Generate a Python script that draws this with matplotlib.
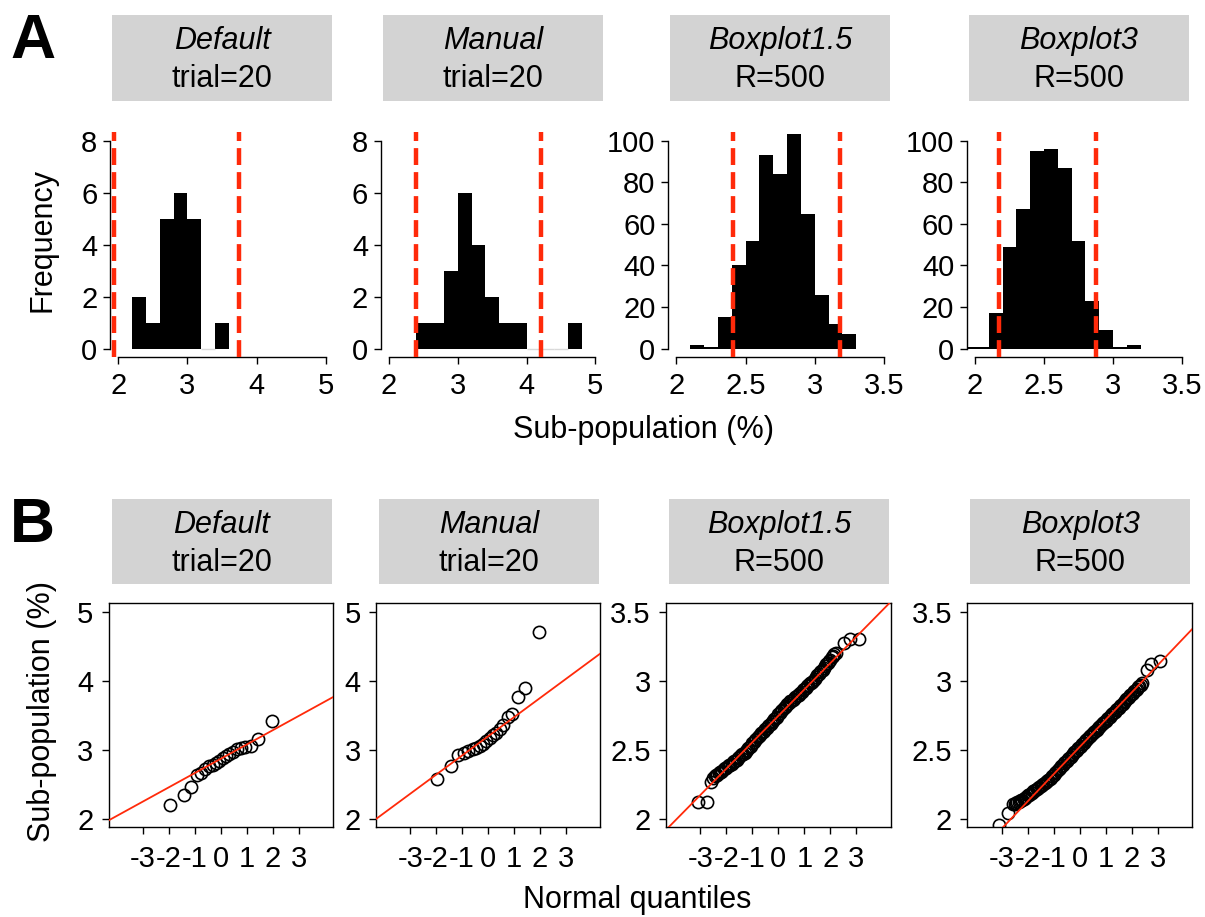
import numpy as np
import matplotlib
matplotlib.use('Agg')
import matplotlib.pyplot as plt
from matplotlib.patches import Rectangle
from statistics import NormalDist

plt.rcParams['font.family'] = ['Liberation Sans', 'DejaVu Sans']

W, H = 1205, 917

# ------------------------------------------------------------------ data
methods = ['Default', 'Manual', 'Boxplot1.5', 'Boxplot3']
sizes = ['trial=20', 'trial=20', 'R=500', 'R=500']

# histogram bins (edges) and counts, panel A
hist_edges_1 = [2.2, 2.4, 2.6, 2.8, 3.0, 3.2, 3.4, 3.6]
hist_counts_1 = [2, 1, 5, 6, 5, 0, 1]
hist_edges_2 = [2.4, 2.6, 2.8, 3.0, 3.2, 3.4, 3.6, 3.8, 4.0, 4.2, 4.4, 4.6, 4.8]
hist_counts_2 = [1, 1, 3, 6, 4, 2, 1, 1, 0, 0, 0, 1]
hist_edges_3 = [2.1, 2.2, 2.3, 2.4, 2.5, 2.6, 2.7, 2.8, 2.9, 3.0, 3.1, 3.2, 3.3]
hist_counts_3 = [2, 1, 15, 40, 52, 93, 84, 103, 65, 26, 12, 7]
hist_edges_4 = [1.9, 2.0, 2.1, 2.2, 2.3, 2.4, 2.5, 2.6, 2.7, 2.8, 2.9, 3.0, 3.1, 3.2]
hist_counts_4 = [1, 1, 17, 49, 67, 95, 96, 87, 52, 23, 9, 1, 2]

# outlier cut-offs (red dashed lines)
cutoffs_1 = [1.94, 3.75]
cutoffs_2 = [2.39, 4.21]
cutoffs_3 = [2.41, 3.18]
cutoffs_4 = [2.175, 2.875]

# QQ data, panel B (sorted sample values, n = 20)
qq_values_1 = [2.20, 2.35, 2.46, 2.63, 2.66, 2.72, 2.76, 2.78, 2.81, 2.84,
               2.88, 2.91, 2.94, 2.97, 3.01, 3.03, 3.04, 3.05, 3.15, 3.42]
qq_values_2 = [2.58, 2.77, 2.93, 2.95, 2.98, 3.01, 3.03, 3.05, 3.08, 3.13,
               3.17, 3.21, 3.24, 3.30, 3.36, 3.47, 3.52, 3.77, 3.89, 4.70]

# R=500 panels: points read along the dense QQ band (normal quantile, value)
qq_q_3 = [-3.09, -2.75, -2.58,
          -2.50, -2.45, -2.40, -2.35, -2.30, -2.25, -2.20, -2.15, -2.10, -2.05,
          -2.00, -1.95, -1.90, -1.85, -1.80, -1.75, -1.70, -1.65, -1.60, -1.55,
          -1.50, -1.45, -1.40, -1.35, -1.30, -1.25, -1.20, -1.15, -1.10, -1.05,
          -1.00, -0.95, -0.90, -0.85, -0.80, -0.75, -0.70, -0.65, -0.60, -0.55,
          -0.50, -0.45, -0.40, -0.35, -0.30, -0.25, -0.20, -0.15, -0.10, -0.05,
          0.00, 0.05, 0.10, 0.15, 0.20, 0.25, 0.30, 0.35, 0.40, 0.45,
          0.50, 0.55, 0.60, 0.65, 0.70, 0.75, 0.80, 0.85, 0.90, 0.95,
          1.00, 1.05, 1.10, 1.15, 1.20, 1.25, 1.30, 1.35, 1.40, 1.45,
          1.50, 1.55, 1.60, 1.65, 1.70, 1.75, 1.80, 1.85, 1.90, 1.95,
          2.00, 2.05, 2.10, 2.15, 2.20,
          2.52, 2.75, 3.09]
qq_v_3 = [2.12, 2.12, 2.27,
          2.30, 2.31, 2.32, 2.32, 2.33, 2.34, 2.34, 2.35, 2.36, 2.37,
          2.37, 2.38, 2.39, 2.39, 2.40, 2.41, 2.42, 2.42, 2.43, 2.44,
          2.45, 2.46, 2.47, 2.47, 2.48, 2.49, 2.50, 2.51, 2.52, 2.53,
          2.55, 2.56, 2.57, 2.58, 2.59, 2.60, 2.61, 2.62, 2.63, 2.64,
          2.65, 2.66, 2.67, 2.68, 2.69, 2.70, 2.71, 2.72, 2.73, 2.74,
          2.76, 2.77, 2.78, 2.79, 2.80, 2.81, 2.82, 2.83, 2.84, 2.85,
          2.85, 2.86, 2.87, 2.88, 2.89, 2.90, 2.90, 2.91, 2.92, 2.93,
          2.94, 2.95, 2.96, 2.97, 2.98, 2.98, 2.99, 3.00, 3.01, 3.03,
          3.04, 3.05, 3.06, 3.07, 3.08, 3.09, 3.11, 3.12, 3.13, 3.14,
          3.15, 3.17, 3.18, 3.19, 3.20,
          3.27, 3.30, 3.30]
qq_q_4 = [-3.09, -2.75, -2.58,
          -2.50, -2.45, -2.40, -2.35, -2.30, -2.25, -2.20, -2.15, -2.10, -2.05,
          -2.00, -1.95, -1.90, -1.85, -1.80, -1.75, -1.70, -1.65, -1.60, -1.55,
          -1.50, -1.45, -1.40, -1.35, -1.30, -1.25, -1.20, -1.15, -1.10, -1.05,
          -1.00, -0.95, -0.90, -0.85, -0.80, -0.75, -0.70, -0.65, -0.60, -0.55,
          -0.50, -0.45, -0.40, -0.35, -0.30, -0.25, -0.20, -0.15, -0.10, -0.05,
          0.00, 0.05, 0.10, 0.15, 0.20, 0.25, 0.30, 0.35, 0.40, 0.45,
          0.50, 0.55, 0.60, 0.65, 0.70, 0.75, 0.80, 0.85, 0.90, 0.95,
          1.00, 1.05, 1.10, 1.15, 1.20, 1.25, 1.30, 1.35, 1.40, 1.45,
          1.50, 1.55, 1.60, 1.65, 1.70, 1.75, 1.80, 1.85, 1.90, 1.95,
          2.00, 2.05, 2.10, 2.15, 2.20, 2.25, 2.30, 2.35, 2.40,
          2.58, 2.75, 3.09]
qq_v_4 = [1.96, 2.04, 2.11,
          2.110, 2.115, 2.120, 2.125, 2.130, 2.135, 2.140, 2.145, 2.150, 2.160,
          2.170, 2.175, 2.180, 2.190, 2.200, 2.204, 2.211, 2.218, 2.226, 2.233,
          2.241, 2.248, 2.255, 2.263, 2.270, 2.278, 2.285, 2.292, 2.300, 2.310,
          2.320, 2.330, 2.341, 2.351, 2.361, 2.372, 2.382, 2.392, 2.403, 2.412,
          2.422, 2.432, 2.442, 2.451, 2.461, 2.471, 2.481, 2.490, 2.500, 2.510,
          2.520, 2.530, 2.541, 2.551, 2.561, 2.571, 2.581, 2.592, 2.602, 2.611,
          2.620, 2.629, 2.638, 2.647, 2.656, 2.666, 2.675, 2.684, 2.693, 2.702,
          2.712, 2.721, 2.730, 2.740, 2.749, 2.758, 2.767, 2.777, 2.786, 2.795,
          2.805, 2.815, 2.825, 2.835, 2.845, 2.855, 2.865, 2.875, 2.885, 2.895,
          2.904, 2.914, 2.923, 2.933, 2.942, 2.952, 2.961, 2.970, 2.980,
          3.08, 3.12, 3.14]

# QQ reference lines (intercept, slope)
qq_line_1 = (2.873, 0.2066)
qq_line_2 = (3.195, 0.2766)
qq_line_3 = (2.746, 0.1909)
qq_line_4 = (2.521, 0.197)

# ticks
hist_xticks_small = [2, 3, 4, 5]
hist_xticks_big = [2, 2.5, 3, 3.5]
hist_xlabels_big = ['2', '2.5', '3', '3.5']
hist_yticks_small = [0, 2, 4, 6, 8]
hist_yticks_big = [0, 20, 40, 60, 80, 100]
qq_xticks = [-3, -2, -1, 0, 1, 2, 3]
qq_xlabels = ['-3', '-2', '-1', '0', '1', '2', '3']
qq_yticks_small = [2, 3, 4, 5]
qq_yticks_big = [2, 2.5, 3, 3.5]
qq_ylabels_big = ['2', '2.5', '3', '3.5']

# ------------------------------------------------------------------ style
RED = '#ff2a0a'
TICK_FS = 21
LAB_FS = 22
STRIP_FS = 22

fig = plt.figure(figsize=(W / 100, H / 100), dpi=100)


def add_ax(left, top, right, bottom):
    return fig.add_axes([left / W, 1 - bottom / H, (right - left) / W, (bottom - top) / H])


def strip(left, top, right, bottom, t1, t2):
    fig.patches.append(Rectangle((left / W, 1 - bottom / H), (right - left) / W,
                                 (bottom - top) / H, transform=fig.transFigure,
                                 facecolor='#d3d3d3', edgecolor='none'))
    cx = (left + right) / 2
    fig.text(cx / W, 1 - (top + 34) / H, t1, style='italic', fontsize=STRIP_FS,
             ha='center', va='baseline')
    fig.text(cx / W, 1 - (top + 72) / H, t2, fontsize=STRIP_FS,
             ha='center', va='baseline')


def style_ticks(ax, xpad, ypad):
    ax.tick_params(axis='both', direction='out', length=5, width=1.0,
                   labelsize=TICK_FS, color='black')
    ax.tick_params(axis='x', pad=xpad)
    ax.tick_params(axis='y', pad=ypad)


def hist_panel(ax, edges, counts, cuts, xlim, ylim, xticks, xlabels, yticks):
    edges = np.asarray(edges, dtype=float)
    counts = np.asarray(counts)
    left = edges[:-1]
    right = edges[1:]
    nz = counts > 0
    ax.bar(left[nz], counts[nz], width=(right - left)[nz], align='edge',
           color='black', edgecolor='none', linewidth=0)
    z = ~nz
    if z.any():
        ax.hlines(np.zeros(z.sum()), left[z], right[z], color='0.85', lw=1)
    for c in cuts:
        ax.axvline(c, color=RED, lw=3.2, dashes=(3.8, 1.6), zorder=3)
    ax.set_xlim(*xlim)
    ax.set_ylim(*ylim)
    ax.set_xticks(xticks)
    ax.set_xticklabels(xlabels)
    ax.set_yticks(yticks)
    ax.set_yticklabels([str(v) for v in yticks])
    for s in ['top', 'right']:
        ax.spines[s].set_visible(False)
    ax.spines['left'].set_bounds(yticks[0], yticks[-1])
    ax.spines['bottom'].set_bounds(xticks[0], xticks[-1])
    for s in ['left', 'bottom']:
        ax.spines[s].set_linewidth(1.0)
    style_ticks(ax, 5.5, 4.0)
    ax.patch.set_alpha(0)


def qq_panel(ax, q, v, line, ylim, yticks, ylabels):
    ax.plot(q, v, 'o', mfc='none', mec='black', ms=8.8, mew=1.2, zorder=2)
    ax.axline((0, line[0]), slope=line[1], color=RED, lw=1.3, zorder=3)
    ax.set_xlim(-4.32, 4.32)
    ax.set_ylim(*ylim)
    ax.set_xticks(qq_xticks)
    ax.set_xticklabels(qq_xlabels)
    ax.set_yticks(yticks)
    ax.set_yticklabels(ylabels)
    for s in ax.spines.values():
        s.set_linewidth(1.0)
    style_ticks(ax, 8.0, 6.0)


# ------------------------------------------------------------------ panel A
hist_boxes = [(110, 334), (380.7, 603.6), (668, 892.3), (966.7, 1190.4)]
hist_data = [
    (hist_edges_1, hist_counts_1, cutoffs_1, (1.88, 5.12), (-0.32, 8.32),
     hist_xticks_small, [str(t) for t in hist_xticks_small], hist_yticks_small),
    (hist_edges_2, hist_counts_2, cutoffs_2, (1.88, 5.12), (-0.32, 8.32),
     hist_xticks_small, [str(t) for t in hist_xticks_small], hist_yticks_small),
    (hist_edges_3, hist_counts_3, cutoffs_3, (1.94, 3.56), (-4, 104),
     hist_xticks_big, hist_xlabels_big, hist_yticks_big),
    (hist_edges_4, hist_counts_4, cutoffs_4, (1.94, 3.56), (-4, 104),
     hist_xticks_big, hist_xlabels_big, hist_yticks_big),
]
for (l, r), d in zip(hist_boxes, hist_data):
    ax = add_ax(l, 132.4, r, 357)
    hist_panel(ax, *d)

# ------------------------------------------------------------------ panel B
qq_boxes = [(108.7, 333.3), (376, 600), (666, 890.7), (967.3, 1192)]
n20 = len(qq_values_1)
nd = NormalDist()
qq_q_20 = [nd.inv_cdf((i + 0.5) / n20) for i in range(n20)]
qq_data = [
    (qq_q_20, qq_values_1, qq_line_1, (1.88, 5.12), qq_yticks_small,
     [str(t) for t in qq_yticks_small]),
    (qq_q_20, qq_values_2, qq_line_2, (1.88, 5.12), qq_yticks_small,
     [str(t) for t in qq_yticks_small]),
    (qq_q_3, qq_v_3, qq_line_3, (1.94, 3.56), qq_yticks_big, qq_ylabels_big),
    (qq_q_4, qq_v_4, qq_line_4, (1.94, 3.56), qq_yticks_big, qq_ylabels_big),
]
for (l, r), d in zip(qq_boxes, qq_data):
    ax = add_ax(l, 603.3, r, 827.3)
    qq_panel(ax, *d)

# ------------------------------------------------------------------ strips
for (l, r), m, s in zip(hist_boxes, methods, sizes):
    strip(l + 2, 15.3, l + 222, 100.7, m, s)
for (l, r), m, s in zip(qq_boxes, methods, sizes):
    strip(l + 3, 499, l + 223, 584, m, s)

# ------------------------------------------------------------------ labels
fig.text(10 / W, 1 - 58 / H, 'A', fontsize=45, fontweight='bold', ha='left', va='baseline')
fig.text(10 / W, 1 - 542 / H, 'B', fontsize=45, fontweight='bold', ha='left', va='baseline')
fig.text(42.5 / W, 1 - 240 / H, 'Frequency', fontsize=LAB_FS, rotation=90,
         ha='center', va='center')
fig.text(42.5 / W, 1 - 712 / H, 'Sub-population (%)', fontsize=LAB_FS, rotation=90,
         ha='center', va='center')
fig.text(643.5 / W, 1 - 430 / H, 'Sub-population (%)', fontsize=LAB_FS,
         ha='center', va='center')
fig.text(637 / W, 1 - 900 / H, 'Normal quantiles', fontsize=LAB_FS,
         ha='center', va='center')

fig.savefig('out.png', dpi=100, facecolor='white')
